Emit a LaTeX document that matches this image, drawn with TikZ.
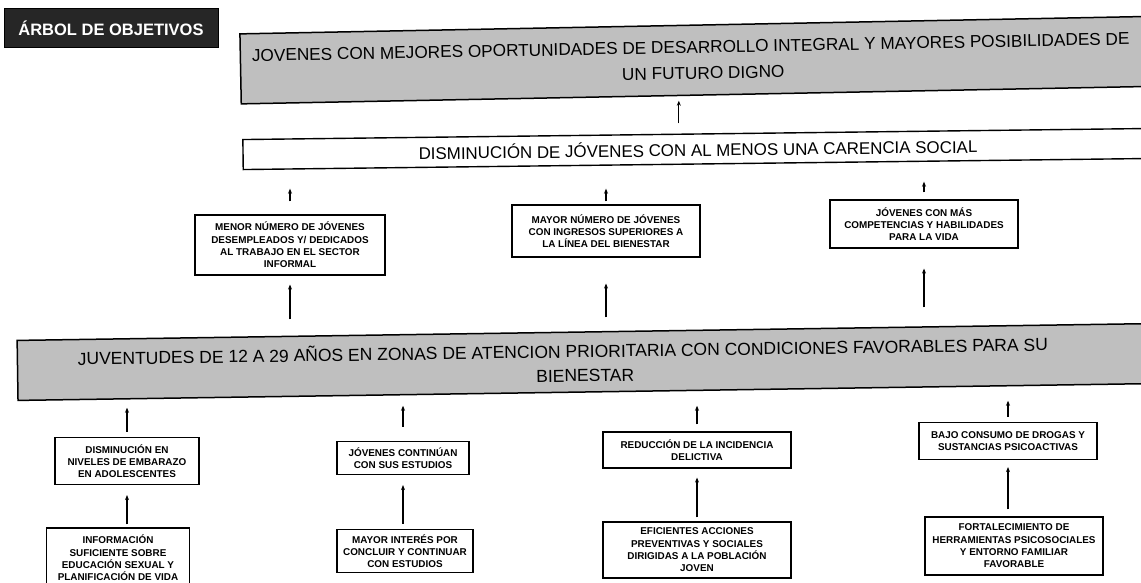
\documentclass[tikz,border=0pt]{standalone}
\usepackage{fontspec}
\setmainfont{Liberation Sans}
\usetikzlibrary{arrows.meta}
\tikzset{
  bigbox/.style={draw=black, line width=1.5pt, fill=black!25, align=center, inner sep=0pt, font=\fontsize{17.2}{26}\selectfont},
  disbox/.style={draw=black, line width=1.4pt, fill=white, align=center, inner sep=0pt, font=\fontsize{16.9}{18}\selectfont},
  sbox/.style={draw=black, line width=1.2pt, fill=white, align=center, inner sep=0pt, font=\bfseries\fontsize{9.9}{12.3}\selectfont},
  titlebox/.style={draw=black, line width=1pt, fill=black!85, text=white, inner sep=0pt, font=\bfseries\fontsize{16.5}{18}\selectfont},
  arr/.style={-{Stealth[length=5pt,width=4pt]}, line width=1.3pt, black}
}
\begin{document}
\begin{tikzpicture}[x=1pt,y=-1pt]
\clip (0,0) rectangle (1141,583);
\fill[white] (0,0) rectangle (1141,583);

\node[titlebox, minimum width=214, minimum height=39] (title) at (111,28) {ÁRBOL DE OBJETIVOS};

\node[bigbox, minimum width=925, minimum height=70, rotate=1.1] (top) at (703,60)
  {JOVENES CON MEJORES OPORTUNIDADES DE DESARROLLO INTEGRAL Y MAYORES POSIBILIDADES DE\hspace*{24pt}\\UN FUTURO DIGNO};

\node[disbox, minimum width=910, minimum height=30, rotate=0.7] (dis) at (698,149)
  {DISMINUCIÓN DE JÓVENES CON AL MENOS UNA CARENCIA SOCIAL};

\node[sbox, minimum width=190, minimum height=60] (m1) at (290,245)
  {MENOR NÚMERO DE JÓVENES\\DESEMPLEADOS Y/ DEDICADOS\\AL TRABAJO EN EL SECTOR\\INFORMAL};
\node[sbox, minimum width=188, minimum height=52] (m2) at (606,231)
  {MAYOR NÚMERO DE JÓVENES\\CON INGRESOS SUPERIORES A\\LA LÍNEA DEL BIENESTAR};
\node[sbox, minimum width=188, minimum height=48] (m3) at (924,224)
  {JÓVENES CON MÁS\\COMPETENCIAS Y HABILIDADES\\PARA LA VIDA};

\node[bigbox, minimum width=1135, minimum height=60, rotate=0.85, font=\fontsize{17.5}{24}\selectfont] (juv) at (585,362)
  {JUVENTUDES DE 12 A 29 AÑOS EN ZONAS DE ATENCION PRIORITARIA CON CONDICIONES FAVORABLES PARA SU\hspace*{44pt}\\BIENESTAR};

\node[sbox, minimum width=144, minimum height=47] (a3) at (127,461)
  {DISMINUCIÓN EN\\NIVELES DE EMBARAZO\\EN ADOLESCENTES};
\node[sbox, minimum width=132, minimum height=33] (b3) at (403,458)
  {JÓVENES CONTINÚAN\\CON SUS ESTUDIOS};
\node[sbox, minimum width=188, minimum height=36] (c3) at (697,450)
  {REDUCCIÓN DE LA INCIDENCIA\\DELICTIVA};
\node[sbox, minimum width=178, minimum height=37] (d3) at (1008,441)
  {BAJO CONSUMO DE DROGAS Y\\SUSTANCIAS PSICOACTIVAS};

\node[sbox, minimum width=143, minimum height=60] (a4) at (118,558)
  {INFORMACIÓN\\SUFICIENTE SOBRE\\EDUCACIÓN SEXUAL Y\\PLANIFICACIÓN DE VIDA};
\node[sbox, minimum width=136, minimum height=43] (b4) at (405,551)
  {MAYOR INTERÉS POR\\CONCLUIR Y CONTINUAR\\CON ESTUDIOS};
\node[sbox, minimum width=188, minimum height=56] (c4) at (697,550)
  {EFICIENTES ACCIONES\\PREVENTIVAS Y SOCIALES\\DIRIGIDAS A LA POBLACIÓN\\JOVEN};
\node[sbox, minimum width=178, minimum height=58] (d4) at (1014,546)
  {FORTALECIMIENTO DE\\HERRAMIENTAS PSICOSOCIALES\\Y ENTORNO FAMILIAR\\FAVORABLE};

% arrows
\draw[arr, shorten <=10pt, shorten >=5pt] ([xshift=-19pt]dis.north) -- ([xshift=-19pt]dis.north |- top.south);
\draw[arr, shorten <=13pt, shorten >=24pt] (m1.north) -- (m1.north |- dis.south);
\draw[arr, shorten <=3pt, shorten >=24pt] (m2.north) -- (m2.north |- dis.south);
\draw[arr, shorten <=7pt, shorten >=17pt] (m3.north) -- (m3.north |- dis.south);
\draw[arr, shorten <=12pt, shorten >=9pt] (m1.south |- juv.north) -- (m1.south);
\draw[arr, shorten <=14pt, shorten >=26pt] (m2.south |- juv.north) -- (m2.south);
\draw[arr, shorten <=24pt, shorten >=20pt] (m3.south |- juv.north) -- (m3.south);
\draw[arr, shorten <=5pt, shorten >=15pt] (a3.north) -- (a3.north |- juv.south);
\draw[arr, shorten <=14pt, shorten >=13pt] (b3.north) -- (b3.north |- juv.south);
\draw[arr, shorten <=7pt, shorten >=13pt] (c3.north) -- (c3.north |- juv.south);
\draw[arr, shorten <=5pt, shorten >=8pt] (d3.north) -- (d3.north |- juv.south);
\draw[arr, shorten <=3pt, shorten >=10pt] (a4.north -| a3.south) -- (a3.south);
\draw[arr, shorten <=5pt, shorten >=10pt] (b4.north -| b3.south) -- (b3.south);
\draw[arr, shorten <=4pt, shorten >=9pt] (c4.north) -- (c3.south);
\draw[arr, shorten <=7pt, shorten >=7pt] (d4.north -| d3.south) -- (d3.south);
\end{tikzpicture}
\end{document}
